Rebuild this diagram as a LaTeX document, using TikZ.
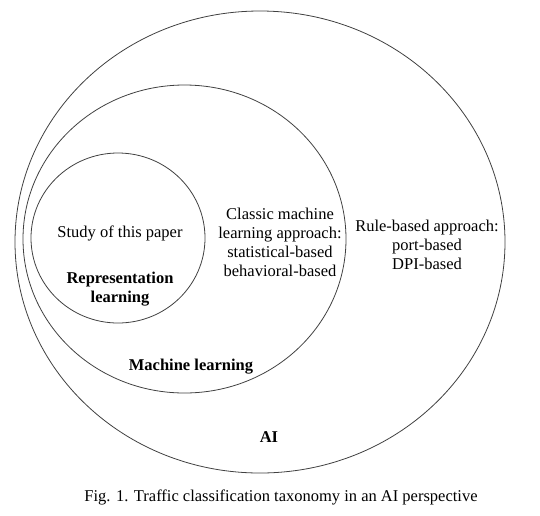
\documentclass[tikz,border=0pt]{standalone}
\usepackage{fontspec}
\setmainfont{Liberation Serif}
\usetikzlibrary{positioning}

\begin{document}
\begin{tikzpicture}[x=1pt, y=-1pt]
      \useasboundingbox (0,0) rectangle (540,515);
      \tikzset{txt/.style={align=center, font=\fontsize{16.5}{19}\selectfont, inner sep=0pt}}
      \draw[line width=0.8pt, black!75] (260,242) ellipse [x radius=245, y radius=231];
      \draw[line width=0.8pt, black!75] (184.5,239) ellipse [x radius=161.5, y radius=154];
      \draw[line width=0.8pt, black!75] (118,238) ellipse [x radius=87, y radius=85];
      \node[txt] (study) at (120,233) {Study of this paper};
      \node[txt, font=\fontsize{16.5}{19}\selectfont\bfseries] (repr) at (120,289) {Representation\\learning};
      \node[txt] (classic) at (280,242.5) {Classic machine\\learning approach:\\statistical-based\\behavioral-based};
      \node[txt] (rule) at (427,245) {Rule-based approach:\\port-based\\DPI-based};
      \node[txt, font=\fontsize{16.5}{19}\selectfont\bfseries] (ml) at (191,367) {Machine learning};
      \node[txt, font=\fontsize{16.5}{19}\selectfont\bfseries] (ai) at (269,437) {AI};
      \node[txt] (caption) at (281,497) {Fig. 1. Traffic classification taxonomy in an AI perspective};
    \end{tikzpicture}
\end{document}
